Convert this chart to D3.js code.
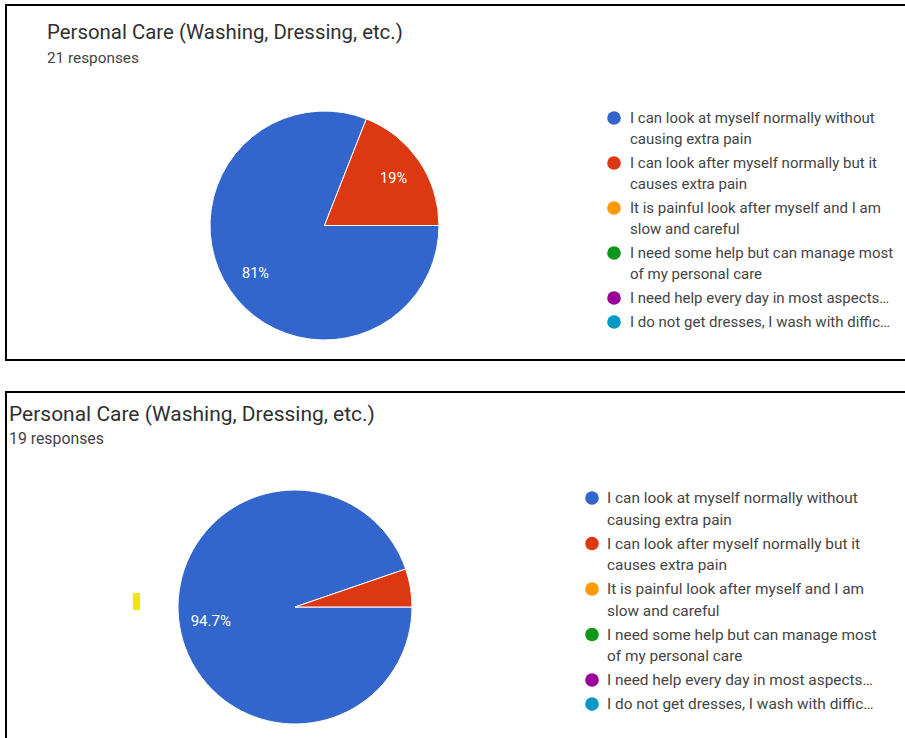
<!DOCTYPE html>
<html>
<head>
<meta charset="utf-8">
<script src="https://cdn.jsdelivr.net/npm/d3@7"></script>
<style>
  html, body { margin: 0; padding: 0; background: #fff; }
  svg { display: block; font-family: Roboto, "Noto Sans", Arial, sans-serif; }
</style>
</head>
<body>
<svg id="chart" width="905" height="738"></svg>
<script>
// Survey question and answer options (legend lines as shown in the form summary)
const questionTitle = "Personal Care (Washing, Dressing, etc.)";
const answerOptions = [
  ["I can look at myself normally without", "causing extra pain"],
  ["I can look after myself normally but it", "causes extra pain"],
  ["It is painful look after myself and I am", "slow and careful"],
  ["I need some help but can manage most", "of my personal care"],
  ["I need help every day in most aspects\u2026"],
  ["I do not get dresses, I wash with diffic\u2026"]
];
const optionColors = ["#3366cc", "#dc3912", "#ff9900", "#109618", "#990099", "#0099c6"];

// Response counts per answer option for the two survey rounds
const responsesFirst = [17, 4, 0, 0, 0, 0];
const responsesSecond = [18, 1, 0, 0, 0, 0];

const svg = d3.select("#chart");

// Layout of the two summary cards
const panels = [
  {
    values: responsesFirst,
    box: { x: 6, y: 5, w: 920, h: 355, bottom: true },
    titleX: 47, titleY: 39, titleW: 356,
    subY: 63, subW: 92,
    cx: 324.5, cy: 225.5, r: 114.5,
    legendX: 614, legendTextX: 630, legendY: 118, lineH: 21, gap: 24, legendW: 245,
    labelSize: 14.5
  },
  {
    values: responsesSecond,
    box: { x: 6, y: 392, w: 920, h: 400, bottom: false },
    titleX: 9, titleY: 421, titleW: 366,
    subY: 444, subW: 95,
    cx: 295, cy: 607, r: 117,
    legendX: 592, legendTextX: 607, legendY: 498, lineH: 21.5, gap: 24, legendW: 251,
    labelSize: 15
  }
];

// Scale a text element's font size so its rendered width matches the target
function fitWidth(sel, base, target) {
  sel.style("font-size", base + "px");
  const w = sel.node().getComputedTextLength();
  const size = base * target / w;
  sel.style("font-size", size + "px");
  return size;
}

const pctFormat = v => {
  const s = d3.format(".1f")(v * 100);
  return (s.endsWith(".0") ? s.slice(0, -2) : s) + "%";
};

panels.forEach(p => {
  const g = svg.append("g");

  // card border (left, top, optional bottom)
  const b = p.box;
  let path = `M${b.x + b.w},${b.y}H${b.x}V${b.y + b.h}`;
  if (b.bottom) path += `H${b.x + b.w}`;
  g.append("path").attr("d", path)
    .attr("fill", "none").attr("stroke", "#000").attr("stroke-width", 2);

  // title and response count
  const title = g.append("text").attr("x", p.titleX).attr("y", p.titleY)
    .attr("fill", "#303030").text(questionTitle);
  fitWidth(title, 18, p.titleW);

  const total = d3.sum(p.values);
  const sub = g.append("text").attr("x", p.titleX).attr("y", p.subY)
    .attr("fill", "#444").text(total + " responses");
  fitWidth(sub, 13, p.subW);

  // pie: slices start at 3 o'clock and run clockwise
  const pie = d3.pie().sort(null).value(d => d)
    .startAngle(Math.PI / 2).endAngle(Math.PI / 2 + 2 * Math.PI);
  const arcs = pie(p.values);
  const arc = d3.arc().innerRadius(0).outerRadius(p.r);
  const labelArc = d3.arc().innerRadius(p.r * 0.73).outerRadius(p.r * 0.73);

  const pg = g.append("g").attr("transform", `translate(${p.cx},${p.cy})`);
  pg.selectAll("path.slice").data(arcs.filter(a => a.value > 0)).join("path")
    .attr("class", "slice")
    .attr("d", arc)
    .attr("fill", d => optionColors[d.index])
    .attr("stroke", "#fff").attr("stroke-width", 1);

  pg.selectAll("text.pct").data(arcs.filter(a => a.value / total >= 0.1)).join("text")
    .attr("class", "pct")
    .attr("transform", d => `translate(${labelArc.centroid(d)})`)
    .attr("text-anchor", "middle").attr("dy", "0.35em")
    .attr("fill", "#fff")
    .style("font-size", p.labelSize + "px")
    .text(d => pctFormat(d.value / total));

  // legend
  const first = g.append("text").attr("x", -1000).attr("y", -1000).text(answerOptions[0][0]);
  const legendSize = fitWidth(first, 13, p.legendW);
  first.remove();

  let y = p.legendY;
  answerOptions.forEach((lines, i) => {
    g.append("circle").attr("cx", p.legendX).attr("cy", y).attr("r", 6.8)
      .attr("fill", optionColors[i]);
    lines.forEach((ln, j) => {
      g.append("text").attr("x", p.legendTextX).attr("y", y + j * p.lineH)
        .attr("dy", "0.35em").attr("fill", "#444")
        .style("font-size", legendSize + "px").text(ln);
    });
    y += (lines.length - 1) * p.lineH + p.gap;
  });
});

// yellow highlight mark beside the second pie
svg.append("rect").attr("x", 133).attr("y", 593).attr("width", 7).attr("height", 17)
  .attr("fill", "#f2e600");
</script>
</body>
</html>
